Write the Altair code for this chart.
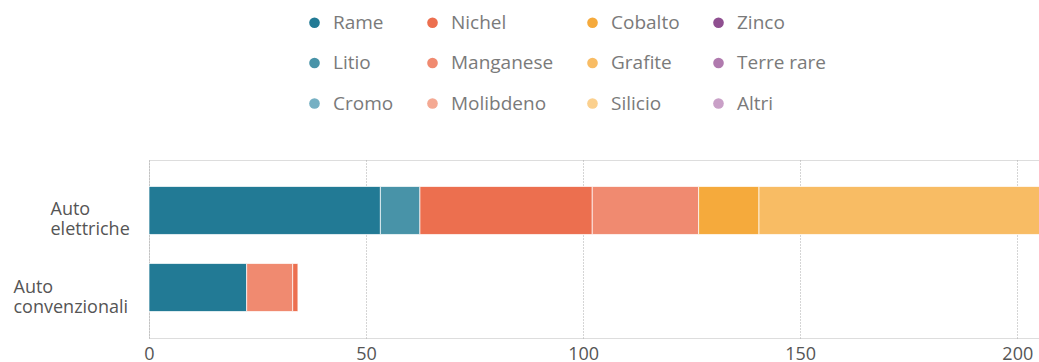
import altair as alt
import pandas as pd

# Legend / colour order (row-major, 4 columns)
materials = ["Rame", "Nichel", "Cobalto", "Zinco",
             "Litio", "Manganese", "Grafite", "Terre rare",
             "Cromo", "Molibdeno", "Silicio", "Altri"]
colors = ["#227a95", "#ec6f4f", "#f5aa3c", "#8f4f90",
          "#4893a8", "#f08a70", "#f8bc64", "#b07aae",
          "#76b0c3", "#f4a993", "#fbd08e", "#c9a0c7"]

categories = ["Auto elettriche", "Auto convenzionali"]

# stacking order and values (kg per vehicle)
ev_materials = ["Rame", "Litio", "Nichel", "Manganese", "Cobalto", "Grafite",
                "Zinco", "Terre rare", "Altri"]
ev_values = [53.3, 9.1, 39.7, 24.5, 13.9, 66.3, 0.1, 0.5, 0.3]

conv_materials = ["Rame", "Manganese", "Nichel"]
conv_values = [22.5, 10.6, 1.2]

rows = []
for cat, mats, vals in [(categories[0], ev_materials, ev_values),
                        (categories[1], conv_materials, conv_values)]:
    for i, (m, v) in enumerate(zip(mats, vals)):
        rows.append({"categoria": cat, "materiale": m, "valore": v, "ordine": i})
df = pd.DataFrame(rows)

FONT = "Open Sans"

bars = alt.Chart(df).mark_bar(clip=True, stroke="white", strokeWidth=0.7).encode(
    x=alt.X("valore:Q", stack="zero",
            scale=alt.Scale(domain=[0, 205], nice=False, zero=True),
            axis=alt.Axis(values=[0, 50, 100, 150, 200], title=None, domain=False,
                          ticks=False, tickSize=0, labelFlush=False,
                          labelFontSize=18, labelColor="#555555", labelFont=FONT,
                          labelPadding=7,
                          grid=True, gridDash=[1, 2], gridColor="#aaaaaa", gridWidth=1)),
    y=alt.Y("categoria:N", sort=categories,
            scale=alt.Scale(paddingInner=0.377, paddingOuter=0.344),
            axis=alt.Axis(title=None, domain=False, ticks=False, tickSize=0,
                          labelAlign="left",
                          labelPadding={"condition": {"test": "datum.value == 'Auto elettriche'",
                                                      "value": 99},
                                        "value": 136},
                          labelExpr="split(datum.label, ' ')",
                          labelFontSize=18, labelLineHeight=20, labelColor="#555555",
                          labelFont=FONT, labelLimit=300)),
    color=alt.Color("materiale:N",
                    scale=alt.Scale(domain=materials, range=colors),
                    legend=alt.Legend(title=None, orient="none", legendX=156, legendY=-147,
                                      direction="horizontal", columns=4,
                                      symbolType="circle", symbolSize=113,
                                      symbolStrokeWidth=0,
                                      labelFont=FONT, labelFontSize=19,
                                      labelColor="#7a7a7a", labelOffset=9,
                                      columnPadding=29, rowPadding=20.5,
                                      gridAlign="each")),
    order=alt.Order("ordine:Q", sort="ascending"),
)

chart = bars.properties(
    width=890, height=178,
    autosize=alt.AutoSizeParams(type="none"),
    padding={"left": 149, "top": 160, "right": 0, "bottom": 24},
).configure_view(stroke="transparent", strokeWidth=0).configure(background="white")

chart.save("out.html", embed_options={"renderer": "svg", "actions": False})
